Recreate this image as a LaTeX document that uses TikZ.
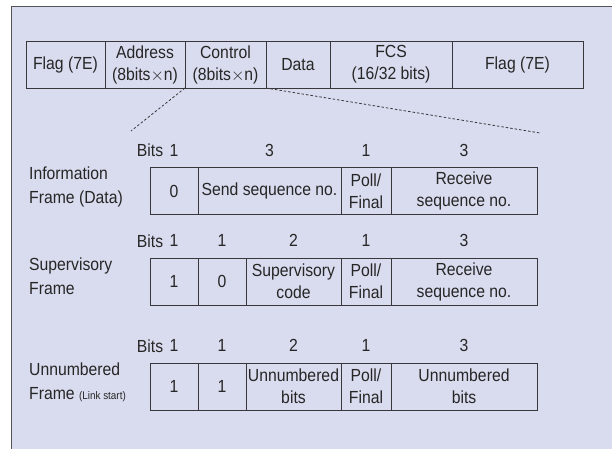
\documentclass[tikz,border=0pt]{standalone}
\usepackage{fontspec}
\setmainfont{Liberation Sans}[FakeStretch=0.9]
\usetikzlibrary{positioning}

\definecolor{panel}{RGB}{217,220,238}
\definecolor{rule}{RGB}{55,55,60}

\tikzset{
  field/.style={draw=rule, line width=0.8pt, inner sep=0pt, outer sep=0pt,
    minimum height=47pt, align=center, text=black!85,
    font=\fontsize{17.5}{22}\selectfont},
  bitno/.style={inner sep=0pt, text=black!85, font=\fontsize{17.5}{18}\selectfont},
  framelabel/.style={anchor=north west, inner sep=0pt, align=left,
    text=black!85, font=\fontsize{17.5}{24}\selectfont},
  split/.style={draw=rule, line width=0.8pt, dash pattern=on 2.5pt off 2pt},
}

\begin{document}
\begin{tikzpicture}[x=1pt,y=-1pt]
  \useasboundingbox (0,0) rectangle (612,449);
  \fill[panel] (11,7) rectangle (612,449);
  \draw[rule!85, line width=1pt] (11,449) -- (11,7) -- (612,7);

  % the whole frame
  \node[field, minimum width=79pt, anchor=west] (flagA) at (26,64.5) {Flag (7E)};
  \node[field, minimum width=80pt, right=0pt of flagA] (addr) {Address\\(8bits$\times$n)};
  \node[field, minimum width=81pt, right=0pt of addr] (ctl) {Control\\(8bits$\times$n)};
  \node[field, minimum width=64pt, right=0pt of ctl] (data) {Data};
  \node[field, minimum width=122pt, right=0pt of data] (fcs) {FCS\\(16/32 bits)};
  \node[field, minimum width=131pt, right=0pt of fcs] (flagB) {Flag (7E)};

  % control field opened up
  \coordinate (splitL) at (131,131);
  \coordinate (splitR) at (540,133);
  \draw[split] (ctl.south west) -- (splitL);
  \draw[split] (ctl.south east) -- (splitR);

  % I frame
  \node[framelabel] (infoL) at (29,167) {Information\\Frame (Data)};
  \node[field, minimum width=48pt, anchor=west] (i1) at (150,191) {0};
  \node[field, minimum width=143pt, right=0pt of i1] (i2) {Send sequence no.};
  \node[field, minimum width=50pt, right=0pt of i2] (i3) {Poll/\\Final};
  \node[field, minimum width=146pt, right=0pt of i3] (i4) {Receive\\sequence no.};
  \node[bitno, above=11pt of i1] (ib1) {1};
  \node[bitno, above=11pt of i2] (ib2) {3};
  \node[bitno, above=11pt of i3] (ib3) {1};
  \node[bitno, above=11pt of i4] (ib4) {3};
  \node[bitno, left=6pt of ib1] (ibits) {Bits};

  % S frame
  \node[framelabel] (supL) at (29,258) {Supervisory\\Frame};
  \node[field, minimum width=48pt, anchor=west] (s1) at (150,281.5) {1};
  \node[field, minimum width=48pt, right=0pt of s1] (s2) {0};
  \node[field, minimum width=95pt, right=0pt of s2] (s3) {Supervisory\\code};
  \node[field, minimum width=50pt, right=0pt of s3] (s4) {Poll/\\Final};
  \node[field, minimum width=146pt, right=0pt of s4] (s5) {Receive\\sequence no.};
  \node[bitno, above=11pt of s1] (sb1) {1};
  \node[bitno, above=11pt of s2] (sb2) {1};
  \node[bitno, above=11pt of s3] (sb3) {2};
  \node[bitno, above=11pt of s4] (sb4) {1};
  \node[bitno, above=11pt of s5] (sb5) {3};
  \node[bitno, left=6pt of sb1] (sbits) {Bits};

  % U frame
  \node[framelabel] (unL) at (29,363) {Unnumbered\\Frame {\fontsize{11}{12}\selectfont(Link start)}};
  \node[field, minimum width=48pt, anchor=west] (u1) at (150,386.5) {1};
  \node[field, minimum width=48pt, right=0pt of u1] (u2) {1};
  \node[field, minimum width=95pt, right=0pt of u2] (u3) {Unnumbered\\bits};
  \node[field, minimum width=50pt, right=0pt of u3] (u4) {Poll/\\Final};
  \node[field, minimum width=146pt, right=0pt of u4] (u5) {Unnumbered\\bits};
  \node[bitno, above=11pt of u1] (ub1) {1};
  \node[bitno, above=11pt of u2] (ub2) {1};
  \node[bitno, above=11pt of u3] (ub3) {2};
  \node[bitno, above=11pt of u4] (ub4) {1};
  \node[bitno, above=11pt of u5] (ub5) {3};
  \node[bitno, left=6pt of ub1] (ubits) {Bits};
\end{tikzpicture}
\end{document}
